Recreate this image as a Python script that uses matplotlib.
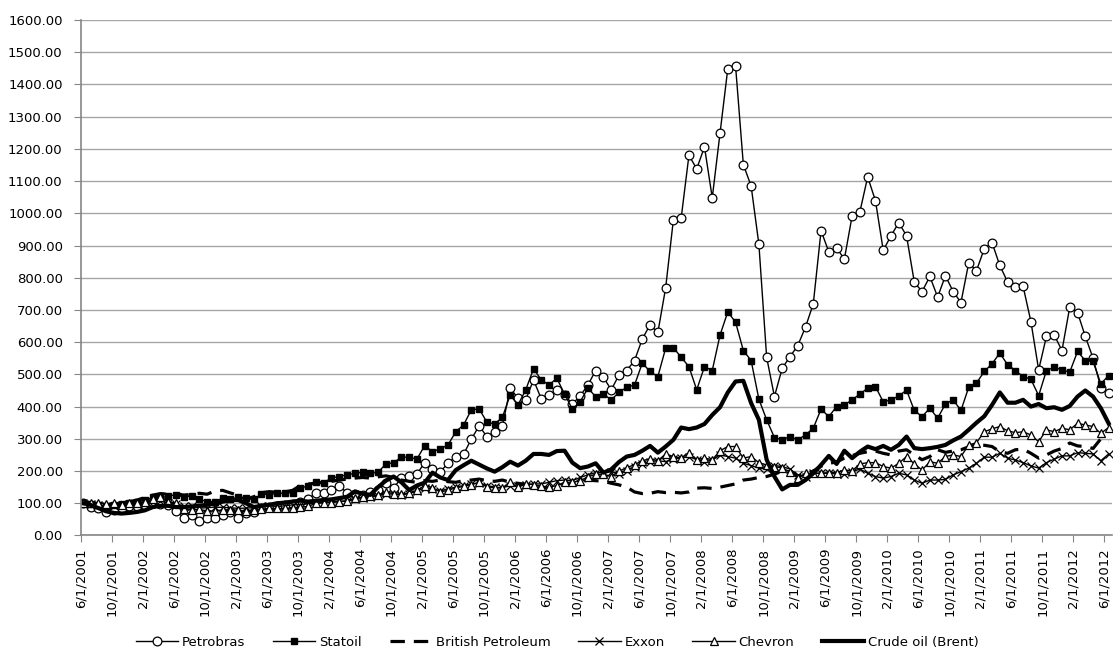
import numpy as np
import matplotlib
matplotlib.use('Agg')
import matplotlib.pyplot as plt
from matplotlib.ticker import FormatStrFormatter

plt.rcParams['font.family'] = ['DejaVu Sans']

# Monthly index values, 6/2001 .. 6/2012 (133 points, base = 100)
petrobras = [100, 89, 85, 73, 80, 85, 90, 92, 95, 100, 98, 95,
             77, 55, 64, 45, 55, 55, 64, 74, 55, 70, 74, 85,
             88, 90, 95, 98, 105, 113, 132, 133, 140, 153, 133, 130,
             125, 135, 141, 164, 148, 178, 186, 191, 226, 207, 198, 224,
             245, 252, 299, 340, 307, 320, 340, 457, 426, 421, 483, 424,
             436, 452, 436, 408, 433, 467, 512, 491, 452, 498, 512, 543,
             610, 654, 630, 768, 980, 985, 1180, 1138, 1206, 1048, 1249, 1449,
             1457, 1151, 1085, 904, 553, 431, 519, 555, 589, 647, 719, 946,
             880, 892, 858, 992, 1005, 1113, 1039, 885, 930, 971, 930, 786,
             757, 804, 740, 806, 757, 723, 846, 822, 890, 909, 838, 787,
             770, 773, 664, 514, 618, 622, 574, 709, 692, 618, 550, 459,
             442]
statoil = [100, 97, 95, 92, 95, 98, 100, 105, 110, 118, 116, 123,
           126, 119, 123, 112, 105, 105, 116, 112, 119, 116, 112, 129,
           126, 131, 131, 133, 147, 154, 167, 164, 178, 183, 188, 193,
           196, 193, 196, 222, 226, 243, 243, 237, 279, 260, 269, 281,
           322, 343, 390, 393, 352, 346, 367, 436, 405, 452, 517, 483,
           467, 488, 439, 392, 415, 457, 431, 439, 421, 444, 460, 467,
           535, 509, 493, 581, 583, 553, 524, 452, 524, 512, 622, 694,
           662, 574, 543, 423, 359, 304, 297, 307, 297, 312, 333, 392,
           369, 400, 405, 421, 439, 457, 462, 415, 421, 433, 451, 388,
           369, 395, 364, 408, 421, 388, 460, 473, 509, 533, 566, 530,
           512, 493, 485, 434, 512, 522, 514, 507, 571, 543, 540, 471,
           496]
british_petroleum = [100, 97, 98, 95, 96, 100, 105, 110, 118, 125, 130, 128,
                     130, 125, 128, 131, 128, 138, 140, 132, 125, 112, 120, 133,
                     136, 134, 135, 140, 155, 160, 162, 165, 168, 172, 175, 178,
                     180, 178, 182, 185, 180, 172, 168, 165, 170, 168, 172, 167,
                     165, 170, 172, 175, 170, 168, 172, 165, 162, 158, 155, 150,
                     148, 153, 158, 160, 165, 172, 170, 168, 162, 157, 150, 135,
                     130, 131, 136, 133, 134, 132, 135, 147, 148, 146, 150, 155,
                     160, 172, 175, 180, 183, 190, 200, 195, 185, 190, 200, 215,
                     224, 228, 240, 248, 255, 260, 262, 255, 250, 262, 266, 250,
                     235, 245, 266, 258, 262, 266, 275, 282, 280, 276, 260, 255,
                     266, 268, 255, 240, 250, 262, 270, 287, 278, 276, 270, 300,
                     292]
exxon = [100, 98, 95, 90, 92, 95, 98, 97, 100, 105, 108, 100,
         98, 92, 90, 85, 86, 88, 87, 86, 84, 85, 86, 90,
         92, 90, 92, 95, 96, 98, 100, 102, 104, 106, 106, 112,
         115, 120, 122, 130, 128, 126, 130, 138, 148, 145, 138, 145,
         150, 155, 160, 162, 155, 150, 148, 155, 152, 158, 160, 160,
         165, 170, 172, 170, 180, 188, 195, 195, 198, 192, 201, 214,
         222, 229, 232, 229, 238, 240, 245, 235, 229, 234, 250, 245,
         240, 224, 217, 209, 206, 217, 214, 206, 188, 183, 193, 193,
         193, 191, 191, 198, 206, 193, 183, 178, 183, 193, 188, 172,
         162, 172, 172, 174, 188, 198, 209, 224, 243, 243, 255, 240,
         234, 226, 216, 209, 226, 237, 247, 247, 257, 255, 253, 232,
         253]
chevron = [100, 102, 102, 98, 100, 95, 100, 100, 105, 112, 120, 105,
           100, 81, 79, 81, 76, 76, 79, 79, 79, 76, 79, 81,
           84, 84, 84, 84, 88, 90, 100, 102, 102, 105, 108, 115,
           118, 122, 125, 135, 130, 128, 132, 140, 155, 148, 135, 140,
           148, 152, 158, 165, 150, 148, 147, 165, 150, 160, 158, 152,
           150, 155, 165, 165, 170, 182, 190, 190, 183, 200, 210, 220,
           232, 238, 232, 253, 245, 240, 257, 235, 240, 235, 263, 276,
           276, 240, 245, 226, 219, 214, 209, 198, 178, 193, 193, 193,
           195, 195, 203, 201, 222, 226, 226, 214, 209, 224, 245, 222,
           203, 229, 224, 245, 250, 245, 281, 288, 322, 331, 338, 325,
           319, 322, 312, 291, 328, 322, 333, 328, 348, 343, 338, 317,
           335]
crude_brent = [100, 95, 85, 75, 70, 68, 70, 73, 78, 88, 92, 92,
               88, 88, 90, 92, 95, 100, 105, 110, 110, 100, 88, 92,
               95, 100, 102, 105, 108, 105, 108, 110, 112, 116, 120, 136,
               130, 126, 150, 170, 183, 165, 141, 155, 164, 195, 180, 172,
               203, 218, 232, 220, 208, 198, 212, 229, 217, 232, 253, 253,
               250, 262, 263, 226, 209, 214, 224, 195, 205, 228, 245, 250,
               263, 278, 257, 276, 297, 335, 330, 335, 346, 374, 398, 444,
               478, 480, 411, 359, 235, 183, 143, 157, 157, 172, 193, 219,
               247, 222, 263, 240, 260, 276, 268, 278, 266, 281, 307, 271,
               268, 271, 275, 281, 295, 307, 328, 350, 370, 405, 444, 412,
               412, 421, 400, 408, 395, 398, 390, 402, 431, 450, 431, 395,
               348]

# x tick labels every 4 months: 6/1/2001 .. 6/1/2012
tick_labels = []
for y in range(2001, 2013):
    for mth in (2, 6, 10):
        if (y == 2001 and mth < 6) or (y == 2012 and mth > 6):
            continue
        tick_labels.append(f'{mth}/1/{y}')

n = len(petrobras)
x = 0.26 + np.arange(n) * (132.29 / 132)
tick_pos = np.arange(len(tick_labels)) * 4

fig = plt.figure(figsize=(11.15, 6.53), dpi=100)
ax = fig.add_axes([0.0724, 0.18, 0.925, 0.7894])

ax.plot(x, petrobras, color='black', lw=1.0, marker='o', ms=6.3,
        mfc='white', mec='black', mew=0.9, label='Petrobras')
ax.plot(x, statoil, color='black', lw=1.0, marker='s', ms=4,
        mfc='black', mec='black', label='Statoil')
ax.plot(x, british_petroleum, color='black', lw=2.3, linestyle=(0, (4.5, 2.8)),
        label='British Petroleum')
ax.plot(x, exxon, color='black', lw=1.0, marker='x', ms=5.5, mew=0.9,
        label='Exxon')
ax.plot(x, chevron, color='black', lw=1.0, marker='^', ms=6,
        mfc='white', mec='black', mew=0.9, label='Chevron')
ax.plot(x, crude_brent, color='black', lw=3.0, label='Crude oil (Brent)')

ax.set_xlim(0, 133)
ax.set_ylim(0, 1600)
ax.set_yticks(np.arange(0, 1601, 100))
ax.yaxis.set_major_formatter(FormatStrFormatter('%.2f'))
ax.set_xticks(tick_pos)
ax.set_xticklabels(tick_labels, rotation=90)

ax.grid(axis='y', color='#a6a6a6', lw=1.0)
ax.set_axisbelow(True)
for side in ('top', 'right'):
    ax.spines[side].set_visible(False)
for side in ('left', 'bottom'):
    ax.spines[side].set_color('#868686')
    ax.spines[side].set_linewidth(1.2)
ax.tick_params(axis='y', length=5, color='#868686', labelsize=9.5, pad=8)
ax.tick_params(axis='x', length=5, color='#868686', labelsize=9.5, pad=4)

fig.legend(loc='lower center', bbox_to_anchor=(0.5, -0.012), ncol=6, frameon=False,
           fontsize=9.5, handlelength=3.2, handletextpad=0.3, columnspacing=2.1,
           numpoints=1)

fig.savefig('out.png', dpi=100)
